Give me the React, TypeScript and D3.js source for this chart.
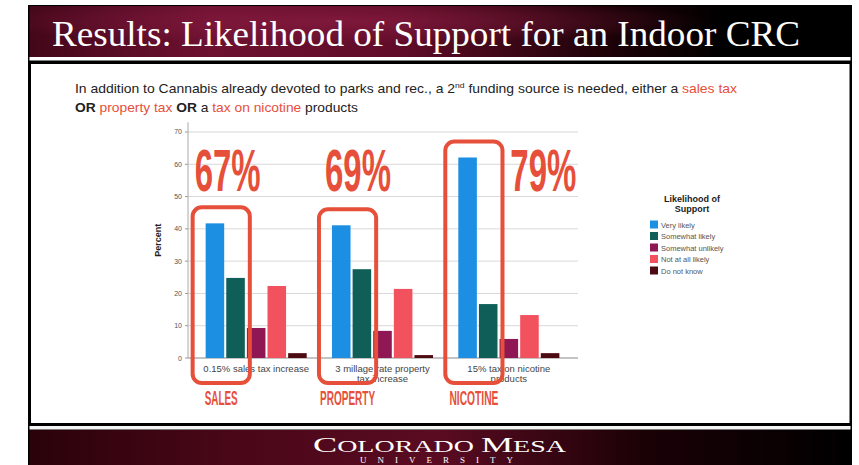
import React from "react";
import * as d3 from "d3";

const categories = ["0.15% sales tax increase", "3 millage rate property tax increase", "15% tax on nicotine products"];
const categoryLines = [["0.15% sales tax increase"], ["3 millage rate property", "tax increase"], ["15% tax on nicotine", "products"]];
const seriesNames = ["Very likely", "Somewhat likely", "Somewhat unlikely", "Not at all likely", "Do not know"];
const veryLikely = [41.7, 41.1, 62.1];
const somewhatLikely = [24.8, 27.5, 16.7];
const somewhatUnlikely = [9.3, 8.4, 5.9];
const notAtAllLikely = [22.3, 21.4, 13.3];
const doNotKnow = [1.5, 0.9, 1.5];
const seriesColors = ["#1c8fe3", "#0f5f58", "#8f1754", "#f2525e", "#4d0a12"];
const yTicks = [0, 10, 20, 30, 40, 50, 60, 70];
const highlightPct = ["67%", "69%", "79%"];
const highlightNames = ["SALES", "PROPERTY", "NICOTINE"];

const seriesValues = [veryLikely, somewhatLikely, somewhatUnlikely, notAtAllLikely, doNotKnow];

const RED = "#e6503a";
const NARROW = "'Liberation Sans Narrow', 'Arial Narrow', 'Liberation Sans', sans-serif";
const SANS = "'Liberation Sans', Arial, sans-serif";
const SERIF = "'Liberation Serif', 'DejaVu Serif', serif";

export default function App() {
  const W = 859, H = 465;
  const x = d3.scaleBand<string>().domain(categories).range([193, 572]).paddingInner(0.2).paddingOuter(0.1);
  const xs = d3.scaleBand<string>().domain(seriesNames).range([0, x.bandwidth()]).paddingInner(0.1);
  const y = d3.scaleLinear().domain([0, 73]).range([358, 122.3]);
  const plotL = 188, plotR = 578;

  const pctX = [x(categories[0])! - 11, x(categories[1])! - 7, x(categories[2])! + 52];

  return (
    <div style={{ position: "absolute", left: 0, top: 0 }}>
      <svg width={W} height={H} style={{ display: "block", background: "#fff" }}>
        <defs>
          <linearGradient id="hdr" x1="0" x2="1" y1="0" y2="0">
            <stop offset="0%" stopColor="#44071a" />
            <stop offset="22%" stopColor="#6e1131" />
            <stop offset="45%" stopColor="#600c28" />
            <stop offset="70%" stopColor="#1e0208" />
            <stop offset="85%" stopColor="#000" />
            <stop offset="100%" stopColor="#000" />
          </linearGradient>
          <radialGradient id="hdrGlow" cx="0.38" cy="0.3" r="0.45">
            <stop offset="0%" stopColor="#8a1d42" stopOpacity="0.7" />
            <stop offset="100%" stopColor="#8a1d42" stopOpacity="0" />
          </radialGradient>
          <linearGradient id="ftr" x1="0" x2="1" y1="0" y2="0">
            <stop offset="0%" stopColor="#2a0209" />
            <stop offset="25%" stopColor="#4a0718" />
            <stop offset="50%" stopColor="#5a0b22" />
            <stop offset="75%" stopColor="#1a0106" />
            <stop offset="100%" stopColor="#000" />
          </linearGradient>
        </defs>

        {/* Frame */}
        <rect x={28} y={5} width={824} height={460} fill="#000" />
        <rect x={29.5} y={6} width={821} height={51} fill="url(#hdr)" />
        <rect x={29.5} y={6} width={821} height={51} fill="url(#hdrGlow)" />
        <rect x={29.5} y={57} width={821} height={3.5} fill="#fff" />
        <rect x={31} y={64} width={818.5} height={359} fill="#fff" />
        <rect x={29.5} y={426} width={821} height={3.5} fill="#f4f4f4" />
        <rect x={29.5} y={430} width={821} height={35} fill="url(#ftr)" />

        {/* Title */}
        <text x={52} y={46} fill="#fff" fontFamily={SERIF} fontSize={36} textLength={748} lengthAdjust="spacingAndGlyphs">
          Results: Likelihood of Support for an Indoor CRC
        </text>

        {/* Subtitle */}
        <text x={75} y={93} fontFamily={NARROW} fontSize={13} fill="#222" textLength={662} lengthAdjust="spacingAndGlyphs">
          In addition to Cannabis already devoted to parks and rec., a 2
          <tspan fontSize={8} dy={-5}>nd</tspan>
          <tspan dy={5}> funding source is needed, either a </tspan>
          <tspan fill={RED}>sales tax</tspan>
        </text>
        <text x={75} y={112} fontFamily={NARROW} fontSize={13} fill="#222" textLength={283} lengthAdjust="spacingAndGlyphs">
          <tspan fontWeight="bold">OR </tspan>
          <tspan fill={RED}>property tax </tspan>
          <tspan fontWeight="bold">OR </tspan>
          <tspan>a </tspan>
          <tspan fill={RED}>tax on nicotine</tspan>
          <tspan> products</tspan>
        </text>

        {/* Gridlines & y axis */}
        {yTicks.map((t) => (
          <g key={t}>
            {t > 0 && <line x1={plotL} x2={plotR} y1={y(t)} y2={y(t)} stroke="#d9d9d9" strokeWidth={1} />}
            <line x1={plotL - 3} x2={plotL} y1={y(t)} y2={y(t)} stroke="#999" strokeWidth={1} />
            <text x={plotL - 6} y={y(t) + 2.5} textAnchor="end" fontFamily={SANS} fontSize={7} fill="#555">
              {t}
            </text>
          </g>
        ))}
        <line x1={plotL} x2={plotL} y1={y(73)} y2={y(0)} stroke="#aaa" strokeWidth={1} />
        <line x1={plotL} x2={plotR} y1={y(0)} y2={y(0)} stroke="#888" strokeWidth={1} />
        <text transform={`translate(161,${(y(0) + y(73)) / 2}) rotate(-90)`} textAnchor="middle" fontFamily={SANS} fontWeight="bold" fontSize={9} fill="#222">
          Percent
        </text>

        {/* Bars */}
        {categories.map((c, ci) => (
          <g key={c} transform={`translate(${x(c)},0)`}>
            {seriesNames.map((s, si) => (
              <rect key={s} x={xs(s)} y={y(seriesValues[si][ci])} width={xs.bandwidth()} height={y(0) - y(seriesValues[si][ci])} fill={seriesColors[si]} />
            ))}
          </g>
        ))}

        {/* Category labels */}
        {categories.map((c, ci) => (
          <text key={c} x={x(c)! + x.bandwidth() / 2} y={372} textAnchor="middle" fontFamily={SANS} fontSize={9.5} fill="#444">
            {categoryLines[ci].map((l, li) => (
              <tspan key={li} x={x(c)! + x.bandwidth() / 2} dy={li === 0 ? 0 : 10}>
                {l}
              </tspan>
            ))}
          </text>
        ))}

        {/* Highlight boxes */}
        {categories.map((c, ci) => {
          const left = x(c)! - 13;
          const right = x(c)! + xs(seriesNames[1])! + xs.bandwidth() + 5;
          const top = y(veryLikely[ci]) - 16;
          return <rect key={c} x={left} y={top} width={right - left} height={383 - top} rx={9} fill="none" stroke={RED} strokeWidth={4} />;
        })}

        {/* Big percentages */}
        {highlightPct.map((p, i) => (
          <text key={p} x={pctX[i]} y={191} fontFamily={NARROW} fontWeight="bold" fontSize={60} fill={RED} textLength={66} lengthAdjust="spacingAndGlyphs">
            {p}
          </text>
        ))}

        {/* Tax names */}
        {highlightNames.map((n, i) => {
          const left = x(categories[i])! - 13;
          const right = x(categories[i])! + xs(seriesNames[1])! + xs.bandwidth() + 5;
          const widths = [33, 55, 49];
          return (
            <text key={n} x={(left + right) / 2 - widths[i] / 2} y={405} fontFamily={NARROW} fontWeight="bold" fontSize={20} fill={RED} textLength={widths[i]} lengthAdjust="spacingAndGlyphs">
              {n}
            </text>
          );
        })}

        {/* Legend */}
        <text x={692} y={202} textAnchor="middle" fontFamily={SANS} fontWeight="bold" fontSize={9} fill="#222">
          Likelihood of
        </text>
        <text x={692} y={212} textAnchor="middle" fontFamily={SANS} fontWeight="bold" fontSize={9} fill="#222">
          Support
        </text>
        {seriesNames.map((s, i) => (
          <g key={s} transform={`translate(650,${224.5 + i * 11.5})`}>
            <rect x={0} y={-4} width={8} height={8} fill={seriesColors[i]} />
            <text x={11} y={3} fontFamily={SANS} fontSize={7.5} fill="#555">
              {s}
            </text>
          </g>
        ))}

        {/* Footer */}
        <text x={313} y={452} fill="#fff" fontFamily={SERIF} fontSize={17} textLength={253} lengthAdjust="spacingAndGlyphs">
          <tspan fontSize={22}>C</tspan>OLORADO <tspan fontSize={22}>M</tspan>ESA
        </text>
        <text x={442} y={463} fill="#fff" fontFamily={SERIF} fontSize={9} textAnchor="middle" letterSpacing={11}>
          UNIVERSITY
        </text>
      </svg>
    </div>
  );
}
